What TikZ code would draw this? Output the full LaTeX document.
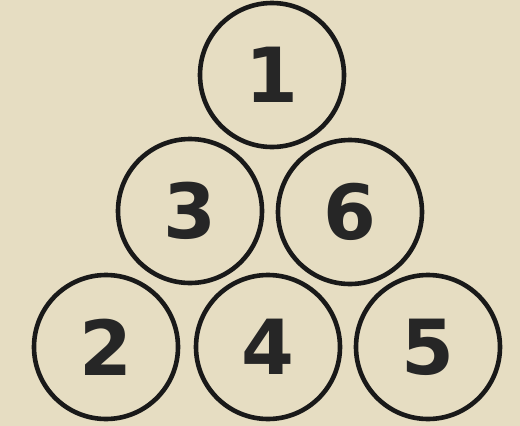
\documentclass[tikz,border=0pt]{standalone}
\usepackage{fontspec}
\setmainfont{DejaVu Sans}
\begin{document}
\begin{tikzpicture}[x=1pt,y=-1pt,
  ball/.style={circle,draw=black!90,line width=4.6pt,minimum size=144pt,inner sep=0pt,
    font=\fontsize{76}{76}\selectfont\bfseries,text=black!85}]
\fill[fill={rgb,255:red,230;green,221;blue,194}] (0,0) rectangle (520,426);
\useasboundingbox (0,0) rectangle (520,426);
\node[ball] (n1) at (272,75) {1};
\node[ball] (n3) at (190,211) {3};
\node[ball] (n6) at (350,212) {6};
\node[ball] (n2) at (106,347) {2};
\node[ball] (n4) at (268,347) {4};
\node[ball] (n5) at (428,347) {5};
\end{tikzpicture}
\end{document}
